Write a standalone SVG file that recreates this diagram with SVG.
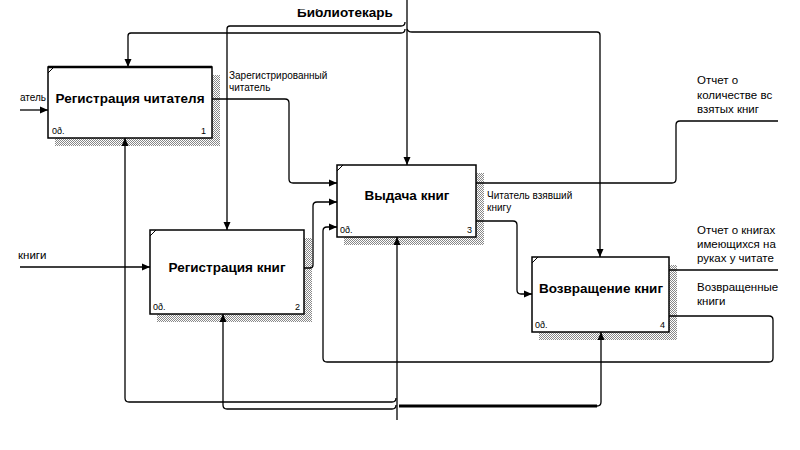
<svg xmlns="http://www.w3.org/2000/svg" width="800" height="450" viewBox="0 0 800 450">
<style>
.box{fill:#fff;stroke:#000;stroke-width:1.5}
.shadow{fill:url(#hatch)}
.title{font-family:"Liberation Sans",Arial,sans-serif;font-weight:bold;font-size:13.5px;text-anchor:middle;fill:#000}
.small{font-family:"Liberation Sans",Arial,sans-serif;font-size:9px;fill:#000}
.lbl{font-family:"Liberation Sans",Arial,sans-serif;font-size:10px;fill:#000}
.lbl2{font-family:"Liberation Sans",Arial,sans-serif;font-size:11.5px;fill:#000}
.tick{stroke:#000;stroke-width:1}
.c{fill:none;stroke:#000;stroke-width:1.3}
.a{marker-end:url(#arr)}
</style>
<defs>
<pattern id="hatch" width="2" height="2" patternUnits="userSpaceOnUse">
<rect width="2" height="2" fill="#fff"/>
<rect width="1" height="1" fill="#888"/>
<rect x="1" y="1" width="1" height="1" fill="#888"/>
</pattern>
<marker id="arr" markerWidth="8" markerHeight="8" refX="8" refY="4" orient="auto" markerUnits="userSpaceOnUse">
<path d="M0,0.5 L8,4 L0,7.5 z" fill="#000"/>
</marker>
<clipPath id="topclip"><rect x="0" y="9" width="800" height="20"/></clipPath>
</defs>
<rect width="800" height="450" fill="#fff"/>

<g id="node1">
<rect class="shadow" x="55" y="75" width="165" height="71"/>
<rect class="box" x="48" y="67" width="164" height="71"/>
<line x1="48" y1="67" x2="212" y2="67" stroke="#000" stroke-width="2.5"/>
<line class="tick" x1="48" y1="73" x2="54" y2="67"/>
<text class="title" x="130" y="103">Регистрация читателя</text>
<text class="small" x="52" y="134">0ð.</text>
<text class="small" x="206" y="134" text-anchor="end">1</text>
</g>

<g id="node2">
<rect class="shadow" x="157" y="238" width="155" height="84"/>
<rect class="box" x="150" y="230" width="154" height="84"/>
<line class="tick" x1="150" y1="236" x2="156" y2="230"/>
<text class="title" x="227" y="272">Регистрация книг</text>
<text class="small" x="153" y="310">0ð.</text>
<text class="small" x="300" y="310" text-anchor="end">2</text>
</g>

<g id="node3">
<rect class="shadow" x="344" y="173" width="140" height="72"/>
<rect class="box" x="337" y="165" width="139" height="72"/>
<line class="tick" x1="337" y1="171" x2="343" y2="165"/>
<text class="title" x="407" y="200">Выдача книг</text>
<text class="small" x="340" y="233">0ð.</text>
<text class="small" x="472" y="233" text-anchor="end">3</text>
</g>

<g id="node4">
<rect class="shadow" x="539" y="265" width="138" height="75"/>
<rect class="box" x="532" y="257" width="137" height="75"/>
<line class="tick" x1="532" y1="263" x2="538" y2="257"/>
<text class="title" x="601" y="293">Возвращение книг</text>
<text class="small" x="535" y="328">0ð.</text>
<text class="small" x="665" y="328" text-anchor="end">4</text>
</g>

<g id="connectors">
<path class="c a" d="M20,110 H48"/>
<path class="c a" d="M20,267 H150"/>
<path class="c a" d="M407,0 V165"/>
<path class="c a" d="M405,29 Q405,33 401,33 H131 Q128,33 128,36 V67"/>
<path class="c a" d="M405,22 Q405,26 401,26 H230 Q227,26 227,29 V230"/>
<path class="c a" d="M407,29 Q408,32 412,32 H597 Q600,32 600,35 V257"/>
<path class="c a" d="M212,99 H285 Q289,99 289,103 V179 Q289,183 293,183 H337"/>
<path class="c a" d="M304,268 H310 Q313,268 313,265 V206 Q313,202 317,202 H337"/>
<path class="c" d="M476,183 H672 Q676,183 676,179 V125 Q676,121 680,121 H778"/>
<path class="c a" d="M476,221 H513 Q517,221 517,225 V290 Q517,294 521,294 H532"/>
<path class="c" d="M669,270 H778"/>
<path class="c a" d="M669,316 H769 Q773,316 773,320 V358 Q773,362 769,362 H327 Q323,362 323,358 V231 Q323,227 327,227 H337"/>
<path class="c a" d="M397,420 V237"/>
<path class="c a" d="M396,398 Q396,402 392,402 H129 Q125,402 125,398 V138"/>
<path class="c a" d="M396,405 Q396,409 392,409 H227 Q223,409 223,405 V314"/>
<path class="c" d="M399,406 H597" style="stroke-width:3"/>
<path class="c a" d="M597,406 Q601,406 601,402 V332"/>
</g>

<g id="labels">
<text x="297" y="17" clip-path="url(#topclip)" style="font-family:'Liberation Sans',Arial,sans-serif;font-weight:bold;font-size:13.5px">Библиотекарь</text>
<text class="lbl" x="20" y="101">атель</text>
<text class="lbl2" x="18" y="259">книги</text>
<text class="lbl" x="229" y="79">Зарегистрированный</text>
<text class="lbl" x="229" y="91">читатель</text>
<text class="lbl" x="487" y="199">Читатель взявший</text>
<text class="lbl" x="487" y="211">книгу</text>
<text class="lbl2" x="697" y="84">Отчет о</text>
<text class="lbl2" x="697" y="99">количестве вс</text>
<text class="lbl2" x="697" y="113">взятых книг</text>
<text class="lbl2" x="697" y="234">Отчет о книгах</text>
<text class="lbl2" x="697" y="248">имеющихся на</text>
<text class="lbl2" x="697" y="262">руках у читате</text>
<text class="lbl2" x="697" y="291">Возвращенные</text>
<text class="lbl2" x="697" y="305">книги</text>
</g>
</svg>
